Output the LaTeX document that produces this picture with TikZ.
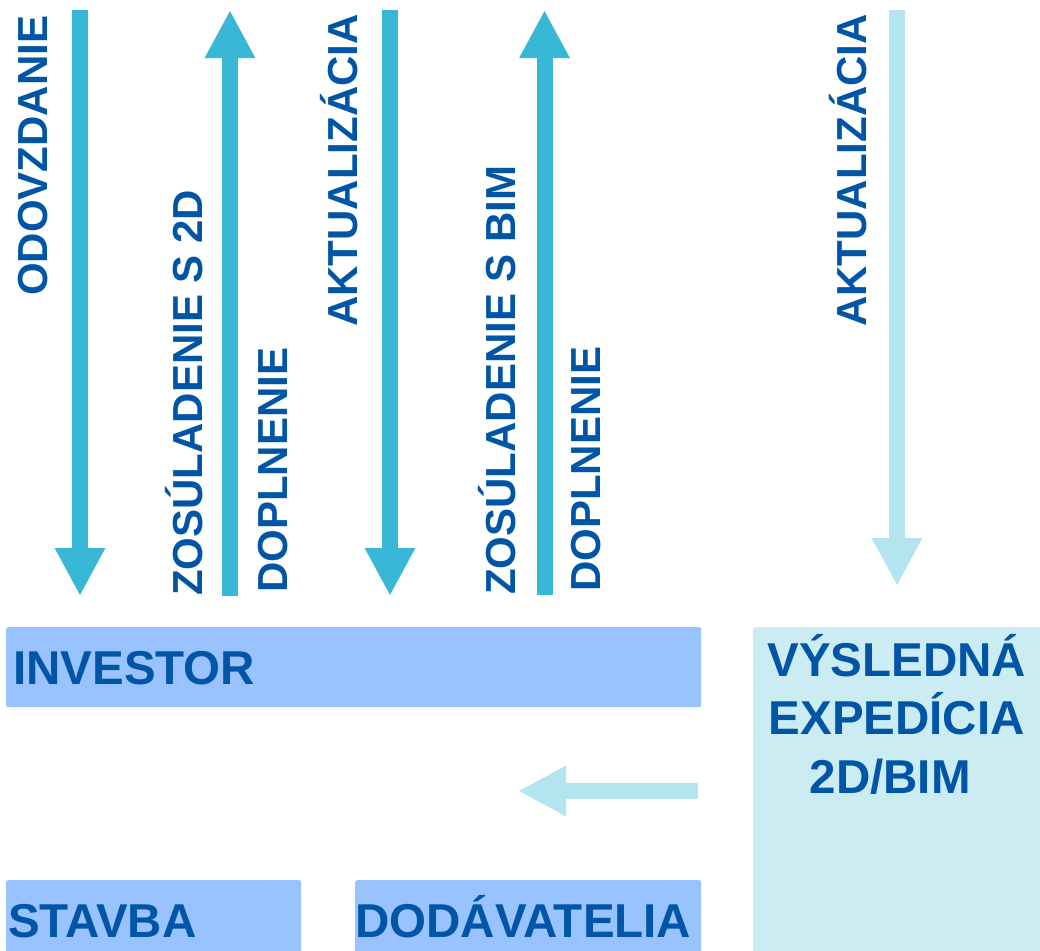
\documentclass[tikz,border=0pt]{standalone}
\usepackage{fontspec}
\setmainfont{Liberation Sans}
\usetikzlibrary{arrows.meta}
\definecolor{txtblue}{HTML}{0055A6}
\definecolor{arrdark}{HTML}{38B8D6}
\definecolor{arrlight}{HTML}{B4E4F0}
\definecolor{boxblue}{HTML}{99C3FF}
\definecolor{boxcyan}{HTML}{CCECF4}
\begin{document}
\begin{tikzpicture}[x=1pt,y=-1pt,
  vlabel/.style={rotate=90, inner sep=0pt, text=txtblue, font=\fontsize{42}{50}\selectfont\bfseries},
  flow/.style={line width=16pt, draw=arrdark, -{Triangle[length=48pt,width=47pt]}},
  flowlight/.style={flow, draw=arrlight},
  boxlbl/.style={anchor=north west, minimum height=80pt, rounded corners=2pt, align=left,
    text height=34pt, text depth=0pt,
    text=txtblue, font=\fontsize{47.5}{58}\selectfont\bfseries},
  expbox/.style={anchor=north west, fill=boxcyan, rounded corners=2pt, inner sep=0pt}
  ]
\useasboundingbox (0,0) rectangle (1040,950);

% boxes
\node[boxlbl, fill=boxblue, inner xsep=7pt, text width=681pt] (investor) at (6,627) {INVESTOR};
\node[boxlbl, fill=boxblue, inner xsep=2pt, text width=291pt] (stavba) at (6,880) {STAVBA};
\node[boxlbl, fill=boxblue, inner xsep=0pt, text width=346pt] (dodavatelia) at (355,880) {DOD\'AVATELIA};
\node[expbox, minimum width=287pt, minimum height=330pt] (exp) at (753,627) {};
\node[anchor=north, align=center, inner sep=0pt, text=txtblue,
  font=\fontsize{47.5}{58.5}\selectfont\bfseries] (exptext) at ([yshift=-7pt]exp.north)
  {VÝSLEDNÁ\\EXPEDÍCIA\\2D/BIM\hspace*{13pt}};

% arrow end points
\coordinate (a1s) at (80,10);   \coordinate (a1e) at (80,596);
\coordinate (a2s) at (230,596); \coordinate (a2e) at (230,10);
\coordinate (a3s) at (390,10);  \coordinate (a3e) at (390,596);
\coordinate (a4s) at (544.5,595); \coordinate (a4e) at (544.5,10);
\coordinate (a5s) at (897,10);  \coordinate (a5e) at (897,586);
\coordinate (a6s) at (698,791); \coordinate (a6e) at (518,791);

\draw[flow] (a1s) -- (a1e);
\draw[flow] (a2s) -- (a2e);
\draw[flow] (a3s) -- (a3e);
\draw[flow] (a4s) -- (a4e);
\draw[flowlight] (a5s) -- (a5e);
\draw[flowlight] (a6s) -- (a6e);

% vertical labels
\node[vlabel, anchor=base west] (odovzdanie) at (47,296) {ODOVZDANIE};
\node[vlabel, anchor=base west] (zos2d) at (202,596) {ZOSÚLADENIE S 2D};
\node[vlabel, anchor=base west] (dopl1) at (287,593) {DOPLNENIE};
\node[vlabel, anchor=base east] (akt1) at (357,14) {AKTUALIZÁCIA};
\node[vlabel, anchor=base west] (zosbim) at (515,595) {ZOSÚLADENIE S BIM};
\node[vlabel, anchor=base west] (dopl2) at (600,592) {DOPLNENIE};
\node[vlabel, anchor=base east] (akt2) at (866,14) {AKTUALIZÁCIA};
\end{tikzpicture}
\end{document}
